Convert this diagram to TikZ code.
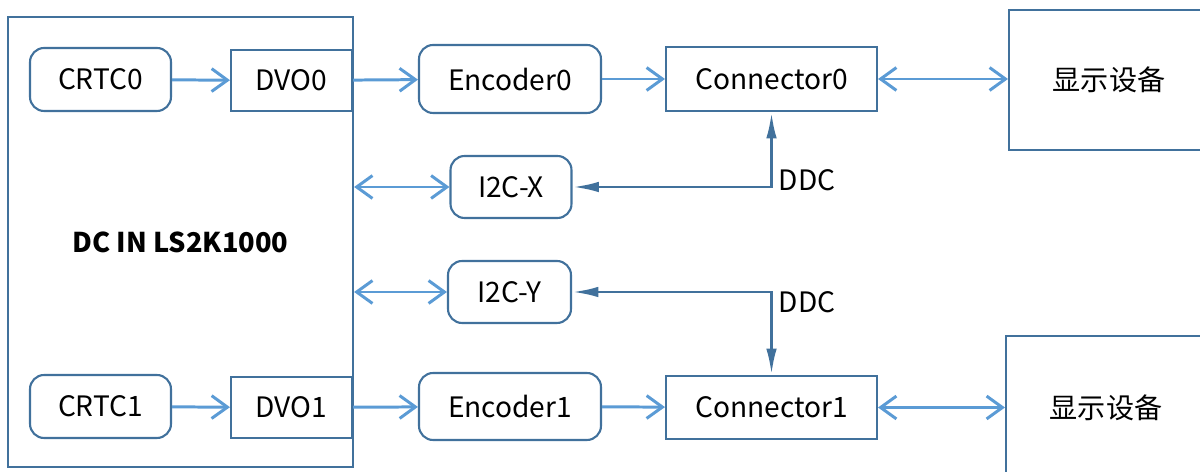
\documentclass[tikz,border=0pt]{standalone}
\usepackage{fontspec}
\setmainfont{Noto Sans CJK SC}
\usetikzlibrary{arrows.meta}

\definecolor{edgeblue}{HTML}{41719C}
\definecolor{linkblue}{HTML}{5B9BD5}

\tikzstyle{chip} = [draw=edgeblue,
    line width=1.3pt,
    rectangle,
    minimum width=6.9cm,
    minimum height=9cm,
    font=\fontsize{15.5}{19}\selectfont\bfseries]
\tikzstyle{unit} = [draw=edgeblue,
    line width=1.2pt,
    rectangle,
    rounded corners=8pt,
    font=\fontsize{16}{19}\selectfont]
\tikzstyle{port} = [draw=edgeblue,
    line width=1.2pt,
    rectangle,
    font=\fontsize{16}{19}\selectfont]
\tikzstyle{screen} = [port,
    minimum width=4cm]
\tikzstyle{link} = [draw=linkblue,
    line width=1.7pt,
    -{Straight Barb[length=9pt,width=13pt]}]
\tikzstyle{dlink} = [link,
    {Straight Barb[length=9pt,width=13pt]}-{Straight Barb[length=9pt,width=13pt]}]
\tikzstyle{ddc} = [draw=edgeblue,
    line width=1.7pt,
    {Latex[length=15pt,width=6pt]}-{Latex[length=15pt,width=6pt]}]
\tikzstyle{tag} = [font=\fontsize{16}{19}\selectfont]

\begin{document}
\begin{tikzpicture}[x=0.02cm, y=-0.02cm]
    \useasboundingbox (0,0) rectangle (1200,472);
    \node (chip) [chip] at (180.5,242) {DC IN LS2K1000};
    % upper path
    \node (crtc0) [unit, minimum width=2.82cm, minimum height=1.26cm] at (100.5,79.5) {CRTC0};
    \node (dvo0) [port, minimum width=2.42cm, minimum height=1.22cm] at (291.5,80.5) {DVO0};
    \node (enc0) [unit, minimum width=3.64cm, minimum height=1.36cm] at (510,79) {Encoder0};
    \node (conn0) [port, minimum width=4.22cm, minimum height=1.28cm] at (771.5,79) {Connector0};
    \node (disp0) [screen, minimum height=2.8cm] at (1109,80) {显示设备};
    % i2c
    \node (i2cx) [unit, minimum width=2.42cm, minimum height=1.24cm] at (511,187) {I2C-X};
    \node (i2cy) [unit, minimum width=2.46cm, minimum height=1.24cm] at (509.5,292) {I2C-Y};
    % lower path
    \node (crtc1) [unit, minimum width=2.82cm, minimum height=1.26cm] at (100.5,406.5) {CRTC1};
    \node (dvo1) [port, minimum width=2.42cm, minimum height=1.22cm] at (291.5,407.5) {DVO1};
    \node (enc1) [unit, minimum width=3.64cm, minimum height=1.34cm] at (510,406.5) {Encoder1};
    \node (conn1) [port, minimum width=4.22cm, minimum height=1.26cm] at (771.5,407.5) {Connector1};
    \node (disp1) [screen, minimum height=2.88cm] at (1106,408) {显示设备};

    \draw [link] (crtc0) -- (dvo0);
    \draw [link] (dvo0) -- (enc0);
    \draw [link] (enc0) -- (conn0);
    \draw [dlink] (conn0) -- (disp0.west |- conn0);
    \draw [dlink] (chip.east |- i2cx) -- (i2cx);
    \draw [dlink] (chip.east |- i2cy) -- (i2cy);
    \draw [ddc] (i2cx) -| node[tag, pos=0.5, right, yshift=0.14cm] {DDC} (conn0);
    \draw [ddc] (i2cy) -| node[tag, pos=0.5, right, yshift=-0.2cm] {DDC} (conn1);
    \draw [link] (crtc1) -- (dvo1);
    \draw [link] (dvo1) -- (enc1);
    \draw [link] (enc1) -- (conn1);
    \draw [dlink] (conn1) -- (disp1.west |- conn1);
\end{tikzpicture}
\end{document}
